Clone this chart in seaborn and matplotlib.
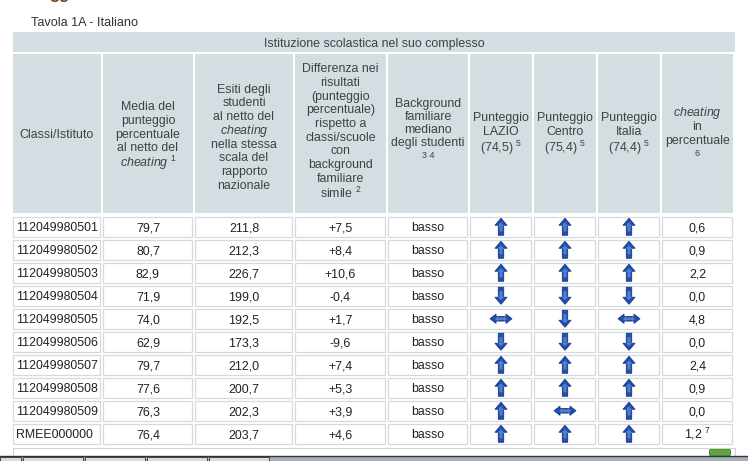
import numpy as np
import pandas as pd
import matplotlib
matplotlib.use("Agg")
import matplotlib.pyplot as plt
from matplotlib.path import Path
from matplotlib.patches import Rectangle, FancyBboxPatch
import seaborn as sns

# ---------------- data ----------------
title = "Tavola 1A - Italiano"
group_header = "Istituzione scolastica nel suo complesso"
ids = ["112049980501", "112049980502", "112049980503", "112049980504",
       "112049980505", "112049980506", "112049980507", "112049980508",
       "112049980509", "RMEE000000"]
media = ["79,7", "80,7", "82,9", "71,9", "74,0", "62,9", "79,7", "77,6", "76,3", "76,4"]
esiti = ["211,8", "212,3", "226,7", "199,0", "192,5", "173,3", "212,0", "200,7", "202,3", "203,7"]
diff = ["+7,5", "+8,4", "+10,6", "-0,4", "+1,7", "-9,6", "+7,4", "+5,3", "+3,9", "+4,6"]
background = ["basso"] * 10
lazio = ["up", "up", "up", "down", "eq", "down", "up", "up", "up", "up"]
centro = ["up", "up", "up", "down", "down", "down", "up", "up", "eq", "up"]
italia = ["up", "up", "up", "down", "eq", "down", "up", "up", "up", "up"]
cheating = ["0,6", "0,9", "2,2", "0,0", "4,8", "0,0", "2,4", "0,9", "0,0", "1,2 $^{7}$"]

headers = [
    ["Classi/Istituto"],
    ["Media del", "punteggio", "percentuale", "al netto del", r"$\mathit{cheating}$ $^{1}$"],
    ["Esiti degli", "studenti", "al netto del", r"$\mathit{cheating}$", "nella stessa",
     "scala del", "rapporto", "nazionale"],
    ["Differenza nei", "risultati", "(punteggio", "percentuale)", "rispetto a",
     "classi/scuole", "con", "background", "familiare", r"simile $^{2}$"],
    ["Background", "familiare", "mediano", "degli studenti", "3 4"],
    ["Punteggio", "LAZIO", r"(74,5) $^{5}$"],
    ["Punteggio", "Centro", r"(75,4) $^{5}$"],
    ["Punteggio", "Italia", r"(74,4) $^{5}$"],
    [r"$\mathit{cheating}$", "in", "percentuale", "6"],
]

# ---------------- style / layout ----------------
sns.set_theme(style="white")
plt.rcParams["font.family"] = ["Liberation Sans", "DejaVu Sans"]
plt.rcParams["mathtext.fontset"] = "custom"
plt.rcParams["mathtext.rm"] = "Liberation Sans"
plt.rcParams["mathtext.it"] = "Liberation Sans:italic"
plt.rcParams["mathtext.bf"] = "Liberation Sans:bold"

W, H = 748, 461
col_edges = [(13, 101), (103, 193), (195, 293), (295, 386), (388, 468),
             (470, 532), (534, 596), (598, 660), (662, 733)]
hdr_bg = "#d3dde2"
cell_edge = "#d6d9db"
hdr_txt = "#414141"
dat_txt = "#222222"
FS = 8.9

hdr_first = [135, 107, 89.5, 69, 103.3, 117.3, 117.3, 117.3, 112.7]
hdr_pitch = [13.7, 13.7, 13.7, 13.7, 13.3, 14.6, 14.6, 14.6, 14.0]

fig = plt.figure(figsize=(W / 100, H / 100), dpi=100)
ax = fig.add_axes([0, 0, 1, 1])
ax.set_xlim(0, W)
ax.set_ylim(H, 0)
ax.axis("off")

# cut-off heading fragment at top (as in the reference)
ax.text(49, -1.5, "gg", fontsize=12, color="#7a3b1c", fontweight="bold", va="baseline")

# title
ax.text(31, 26.5, title, fontsize=9.1, color="#333333", va="baseline", ha="left")

# header row 1
ax.add_patch(Rectangle((13, 32), 735 - 13, 20, facecolor=hdr_bg, edgecolor="none"))
ax.text((13 + 735) / 2, 46.5, group_header, fontsize=FS, color=hdr_txt,
        ha="center", va="baseline")

# header row 2
for j, (x0, x1) in enumerate(col_edges):
    ax.add_patch(Rectangle((x0, 54), x1 - x0, 159, facecolor=hdr_bg, edgecolor="none"))
    cx = (x0 + x1) / 2
    y = hdr_first[j]
    for k, line in enumerate(headers[j]):
        small = line in ("3 4", "6")
        if k > 0:
            y += hdr_pitch[j] * (0.9 if small else 1.0)
            if "^" in line:
                y += 2.3
        ax.text(cx, y + 3.2, line, fontsize=(6.6 if small else FS), color=hdr_txt,
                ha="center", va="baseline")

# data rows
row_top0, row_pitch, row_h = 216, 23, 21.5
n = len(ids)
text_cols = [ids, media, esiti, diff, background, None, None, None, cheating]
for i in range(n):
    top = row_top0 + row_pitch * i
    cy = top + row_h / 2
    for j, (x0, x1) in enumerate(col_edges):
        ax.add_patch(Rectangle((x0 + 0.5, top + 0.5), x1 - x0 - 1, row_h - 1,
                               facecolor="white", edgecolor=cell_edge, lw=0.9))
        vals = text_cols[j]
        if vals is None:
            continue
        if j == 0:
            ax.text(x0 + 3, cy + 4.3, vals[i], fontsize=FS, color=dat_txt,
                    ha="left", va="baseline")
        else:
            ax.text((x0 + x1) / 2, cy + 4.3, vals[i], fontsize=FS, color=dat_txt,
                    ha="center", va="baseline")

# arrow markers via seaborn
up = Path([(0, 8.5), (6, 1.5), (2.7, 1.5), (2.7, -8.5), (-2.7, -8.5), (-2.7, 1.5),
           (-6, 1.5), (0, 8.5)],
          [Path.MOVETO] + [Path.LINETO] * 6 + [Path.CLOSEPOLY])
down = Path([(0, -8.5), (6, -1.5), (2.7, -1.5), (2.7, 8.5), (-2.7, 8.5), (-2.7, -1.5),
             (-6, -1.5), (0, -8.5)],
            [Path.MOVETO] + [Path.LINETO] * 6 + [Path.CLOSEPOLY])
eq = Path([(-11, 0), (-5, 4.6), (-5, 2.3), (5, 2.3), (5, 4.6), (11, 0), (5, -4.6),
           (5, -2.3), (-5, -2.3), (-5, -4.6), (-11, 0)],
          [Path.MOVETO] + [Path.LINETO] * 9 + [Path.CLOSEPOLY])
markers = {"up": up, "down": down, "eq": eq}

rows = []
for colidx, vals in zip([5, 6, 7], [lazio, centro, italia]):
    x0, x1 = col_edges[colidx]
    for i, v in enumerate(vals):
        rows.append({"x": (x0 + x1) / 2, "y": row_top0 + row_pitch * i + row_h / 2, "dir": v})
arr = pd.DataFrame(rows)
sns.scatterplot(data=arr, x="x", y="y", style="dir", size="dir", markers=markers,
                sizes={"up": 150, "down": 150, "eq": 250},
                color="#1f4fae", edgecolor="#173a84", linewidth=0.6,
                legend=False, ax=ax, zorder=5)
# lighter inner highlight to mimic the gradient of the icons
sns.scatterplot(data=arr, x="x", y="y", style="dir", size="dir", markers=markers,
                sizes={"up": 45, "down": 45, "eq": 80},
                color="#5f8bd8", edgecolor="none", linewidth=0,
                legend=False, ax=ax, zorder=6, alpha=0.8)
ax.set_xlim(0, W)
ax.set_ylim(H, 0)
ax.axis("off")

# empty box below the table
ax.plot([13, 13, 735, 735], [458, 448, 448, 458], color="#d0d3d6", lw=0.8)

# green icon
ax.add_patch(FancyBboxPatch((710, 449.5), 20, 6, boxstyle="round,pad=0.5,rounding_size=2",
                            facecolor="#5aa83a", edgecolor="#3d7a26", lw=0.6))

# bottom tab strip
ax.add_patch(Rectangle((0, 455.5), W, 6, facecolor="#a7b1bd", edgecolor="none", zorder=6))
ax.plot([0, W], [456, 456], color="#333333", lw=1.0, zorder=7)
tabs = [(0, 21), (23, 83), (85, 145), (147, 207), (209, 269)]
for a, b in tabs:
    ax.add_patch(Rectangle((a, 456.5), b - a, 5, facecolor="#d9dbdd",
                           edgecolor="#444444", lw=0.7, zorder=7))

fig.savefig("out.png", dpi=100)
